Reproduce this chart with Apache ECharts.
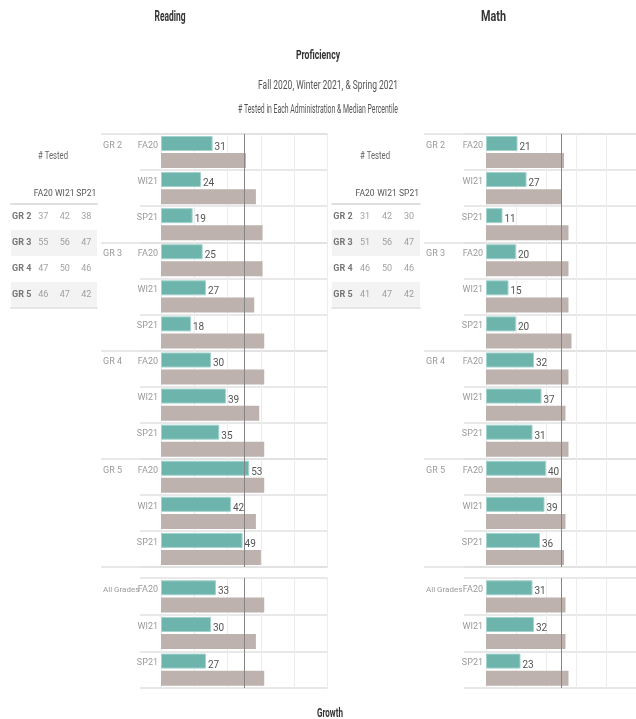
<!DOCTYPE html>
<html>
<head>
<meta charset="utf-8">
<script src="https://cdn.jsdelivr.net/npm/echarts@6/dist/echarts.min.js"></script>
<style>html,body{margin:0;padding:0;background:#fff}#c{width:636px;height:719px}</style>
</head>
<body>
<div id="c"></div>
<script>
// ---- data ----
const grades = ['GR 2', 'GR 3', 'GR 4', 'GR 5'];
const admins = ['FA20', 'WI21', 'SP21'];
const allLabel = 'All Grades';
// # tested (rows = grades)
const readingTestedFA20 = [37, 55, 47, 46];
const readingTestedWI21 = [42, 56, 50, 47];
const readingTestedSP21 = [38, 47, 46, 42];
const mathTestedFA20 = [31, 51, 46, 41];
const mathTestedWI21 = [42, 56, 50, 47];
const mathTestedSP21 = [30, 47, 46, 42];
// median percentile by grade x admin (GR2 FA20, WI21, SP21, GR3 ...)
const readingMedian = [31, 24, 19, 25, 27, 18, 30, 39, 35, 53, 42, 49];
const readingCompare = [51, 57, 61, 61, 56, 62, 62, 59, 62, 62, 57, 60];
const readingAllMedian = [33, 30, 27];
const readingAllCompare = [62, 57, 62];
const mathMedian = [21, 27, 11, 20, 15, 20, 32, 37, 31, 40, 39, 36];
const mathCompare = [52, 50, 55, 55, 55, 57, 55, 53, 55, 50, 53, 52];
const mathAllMedian = [31, 32, 23];
const mathAllCompare = [53, 53, 55];
const medianRef = 50;
const axisMax = 100;
const axisStep = 20;

// ---- styles ----
const FONT = "Roboto, 'Liberation Sans', sans-serif";
const TEAL = '#6db4ac';
const GREY = '#bdb2ad';
const LINE = '#e1e1e1';
const LABEL = '#9a9a9a';

const grids = [], xAxis = [], yAxis = [], series = [];
function addGrid(g) { grids.push(g); return grids.length - 1; }

const mainKeys = [];
grades.forEach(g => admins.forEach(a => mainKeys.push(g + '|' + a)));
const allKeys = admins.map(a => allLabel + '|' + a);

function block(cfg, keys, top, height, teal, grey, groupEvery, groupFont) {
  let gi = addGrid({ left: cfg.rowLeft, top: top, width: cfg.end - cfg.rowLeft, height: height });
  xAxis.push({ gridIndex: gi, type: 'value', show: false, min: 0, max: 1 });
  yAxis.push({ gridIndex: gi, type: 'category', data: keys, inverse: true,
    axisLine: { show: false }, axisTick: { show: false }, axisLabel: { show: false },
    splitLine: { show: true, lineStyle: { color: LINE, width: 1.5 } } });
  gi = addGrid({ left: cfg.groupLeft, top: top, width: cfg.end - cfg.groupLeft, height: height });
  xAxis.push({ gridIndex: gi, type: 'value', show: false, min: 0, max: 1 });
  yAxis.push({ gridIndex: gi, type: 'category', data: keys, inverse: true,
    axisLine: { show: false }, axisTick: { show: false },
    axisLabel: { inside: true, margin: 2, interval: 0, color: LABEL, fontFamily: FONT, fontSize: groupFont,
      verticalAlign: 'bottom', padding: [0, 0, 2, 0],
      formatter: (v, i) => (i % groupEvery === 0 ? v.split('|')[0] : '') },
    splitLine: { show: groupEvery < keys.length, interval: (i) => i % groupEvery === 0,
      lineStyle: { color: LINE, width: 1.5 } } });
  gi = addGrid({ left: cfg.dataLeft, top: top, width: cfg.dataWidth, height: height });
  xAxis.push({ gridIndex: gi, type: 'value', min: 0, max: axisMax, interval: axisStep,
    axisLine: { show: false }, axisTick: { show: false }, axisLabel: { show: false },
    splitLine: { show: true, lineStyle: { color: '#ececec', width: 1 } } });
  const yi = yAxis.length;
  yAxis.push({ gridIndex: gi, type: 'category', data: keys, inverse: true,
    axisLine: { show: false }, axisTick: { show: false },
    axisLabel: { margin: 3, interval: 0, color: LABEL, fontFamily: FONT, fontSize: 9,
      verticalAlign: 'bottom', padding: [0, 0, 2, 0], formatter: v => v.split('|')[1] } });
  const xi = xAxis.length - 1;
  series.push({ type: 'bar', xAxisIndex: xi, yAxisIndex: yi, data: teal, barWidth: 15, barGap: '14%',
    itemStyle: { color: TEAL, borderColor: '#a3d3cd', borderWidth: 1 },
    label: { show: true, position: 'right', distance: 2, offset: [0, 4], color: '#555',
      fontFamily: FONT, fontSize: 10 },
    markLine: { silent: true, symbol: 'none', label: { show: false },
      lineStyle: { color: '#858585', width: 1, type: 'solid' }, data: [{ xAxis: medianRef }] },
    z: 3 });
  series.push({ type: 'bar', xAxisIndex: xi, yAxisIndex: yi, data: grey, barWidth: 15,
    itemStyle: { color: GREY }, z: 2 });
}

function table(left, width, fa, wi, sp) {
  const gi = addGrid({ left: left, top: 204, width: width, height: 104 });
  const cols = ['row'].concat(admins);
  xAxis.push({ gridIndex: gi, type: 'category', data: cols, position: 'top',
    axisLine: { show: true, lineStyle: { color: '#e0e0e0', width: 2 } }, axisTick: { show: false },
    axisLabel: { interval: 0, margin: 6, color: '#555', fontFamily: FONT, fontSize: 8.5,
      formatter: v => (v === 'row' ? '' : v) } });
  xAxis.push({ gridIndex: gi, type: 'category', data: cols, position: 'bottom',
    axisLine: { show: true, lineStyle: { color: '#e6e6e6', width: 2 } }, axisTick: { show: false },
    axisLabel: { show: false } });
  const yi = yAxis.length;
  yAxis.push({ gridIndex: gi, type: 'category', data: grades, inverse: true,
    axisLine: { show: false }, axisTick: { show: false }, axisLabel: { show: false },
    splitArea: { show: true, areaStyle: { color: ['rgba(255,255,255,0)', '#f3f3f3'] } } });
  const xi = xAxis.length - 2;
  const vals = [];
  grades.forEach((g, r) => {
    vals.push(['FA20', g, fa[r]], ['WI21', g, wi[r]], ['SP21', g, sp[r]]);
  });
  series.push({ type: 'scatter', xAxisIndex: xi, yAxisIndex: yi, symbolSize: 1,
    itemStyle: { color: 'rgba(0,0,0,0)' },
    data: grades.map(g => ['row', g, g]),
    label: { show: true, position: 'inside', formatter: p => p.value[2], color: '#555',
      fontFamily: FONT, fontSize: 9, fontWeight: 'bold' } });
  series.push({ type: 'scatter', xAxisIndex: xi, yAxisIndex: yi, symbolSize: 1,
    itemStyle: { color: 'rgba(0,0,0,0)' }, data: vals,
    label: { show: true, position: 'inside', formatter: p => p.value[2], color: '#8a8a8a',
      fontFamily: FONT, fontSize: 9 } });
}

const readingCfg = { groupLeft: 101, rowLeft: 140, dataLeft: 161, dataWidth: 166.5, end: 327.5 };
const mathCfg = { groupLeft: 424, rowLeft: 464, dataLeft: 486, dataWidth: 166.5, end: 652.5 };

block(readingCfg, mainKeys, 134, 433, readingMedian, readingCompare, 3, 9);
block(readingCfg, allKeys, 578, 110, readingAllMedian, readingAllCompare, 3, 8);
block(mathCfg, mainKeys, 134, 433, mathMedian, mathCompare, 3, 9);
block(mathCfg, allKeys, 578, 110, mathAllMedian, mathAllCompare, 3, 8);
table(11, 86, readingTestedFA20, readingTestedWI21, readingTestedSP21);
table(332, 88, mathTestedFA20, mathTestedWI21, mathTestedSP21);

// headings: condensed look by horizontal scaling to the reference width
const mctx = document.createElement('canvas').getContext('2d');
function heading(text, cx, cy, size, weight, color, targetW) {
  const font = weight + ' ' + size + 'px ' + FONT;
  mctx.font = font;
  const s = Math.min(1, targetW / mctx.measureText(text).width);
  return { type: 'text', x: cx, y: cy, scaleX: s, silent: true,
    style: { text: text, font: font, fill: color, align: 'center', verticalAlign: 'middle',
      textAlign: 'center', textVerticalAlign: 'middle' } };
}
const headings = [
  heading('Reading', 170, 17, 14, 'bold', '#333', 31),
  heading('Math', 493.5, 17, 14, 'bold', '#333', 25),
  heading('Proficiency', 318, 56, 13, 'bold', '#333', 44),
  heading('Fall 2020, Winter 2021, & Spring 2021', 328, 86, 12, 'normal', '#555', 140),
  heading('# Tested in Each Administration & Median Percentile', 318, 110, 12, 'normal', '#555', 160),
  heading('# Tested', 53, 156, 11, 'normal', '#666', 30),
  heading('# Tested', 375, 156, 11, 'normal', '#666', 30),
  heading('Growth', 330, 714, 13, 'bold', '#333', 26)
];

const chart = echarts.init(document.getElementById('c'), null, { renderer: 'canvas' });
chart.setOption({
  animation: false,
  backgroundColor: '#fff',
  graphic: headings,
  grid: grids,
  xAxis: xAxis,
  yAxis: yAxis,
  series: series
});
</script>
</body>
</html>
